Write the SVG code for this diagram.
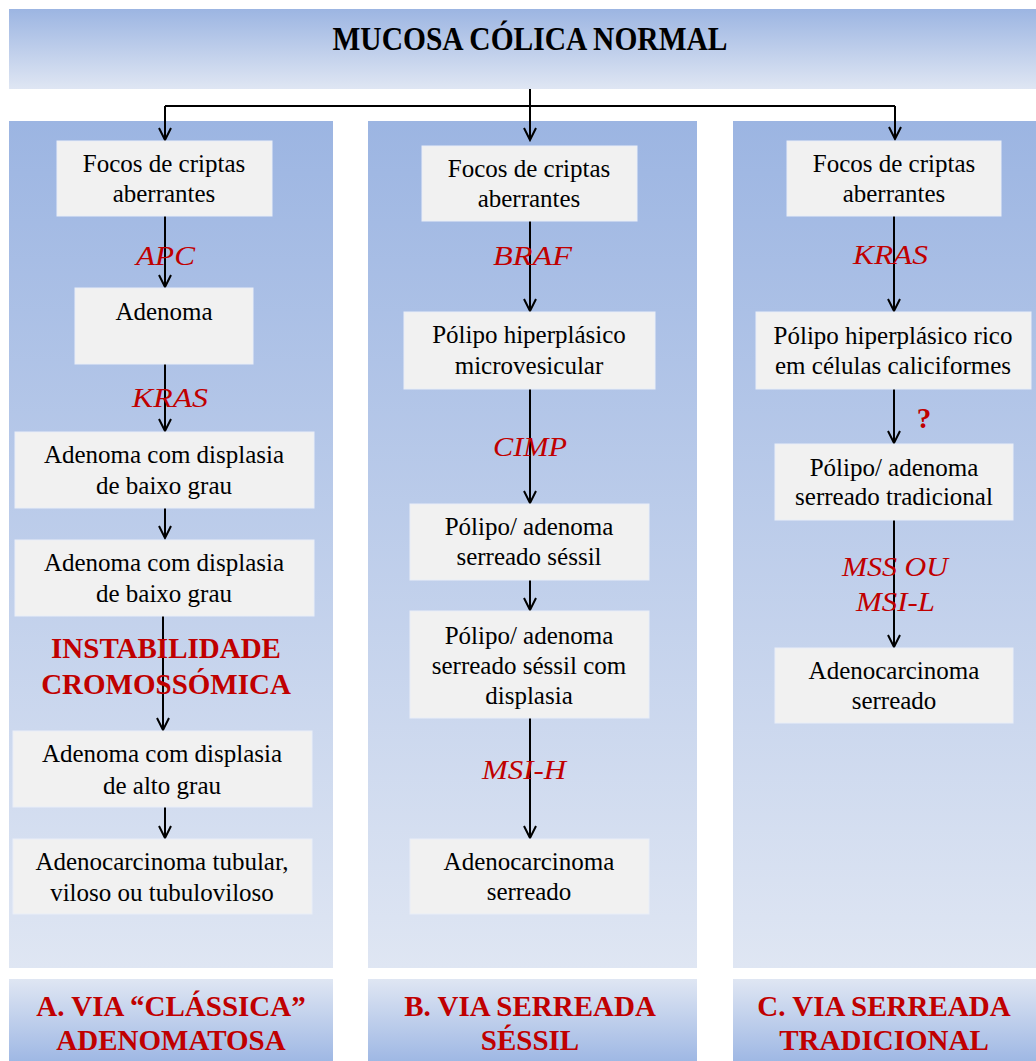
<svg xmlns="http://www.w3.org/2000/svg" width="1036" height="1061" viewBox="0 0 1036 1061" font-family="Liberation Serif, Times New Roman, serif">
<defs>
<linearGradient id="gDown" x1="0" y1="0" x2="0" y2="1">
<stop offset="0" stop-color="#9cb5e2"/>
<stop offset="1" stop-color="#dfe6f3"/>
</linearGradient>
<linearGradient id="gUp" x1="0" y1="0" x2="0" y2="1">
<stop offset="0" stop-color="#dfe6f3"/>
<stop offset="1" stop-color="#9fb8e4"/>
</linearGradient>
<marker id="arr" viewBox="-14 -8 16 16" refX="0" refY="0" markerWidth="16" markerHeight="16" markerUnits="userSpaceOnUse" orient="auto">
<path d="M-12,-6 L0,0 L-12,6" fill="none" stroke="#000" stroke-width="2"/>
</marker>
<style>
.col{fill:url(#gDown);}
.lab{fill:url(#gUp);}
.node rect{fill:#f1f1f1;stroke:#e9eef7;stroke-width:1;}
text{text-anchor:middle;}
.t{font-size:25px;fill:#000;}
.g{font-size:28px;font-style:italic;fill:#c00000;}
.b{font-size:29px;font-weight:bold;fill:#c00000;}
.h{font-size:33px;font-weight:bold;fill:#000;}
.c{fill:none;stroke:#000;stroke-width:2;}
.a{fill:none;stroke:#000;stroke-width:2;marker-end:url(#arr);}
</style>
</defs>
<rect width="1036" height="1061" fill="#fff"/>

<g id="header">
<rect x="9" y="9" width="1027" height="80" class="col"/>
<text class="h" x="530" y="50" textLength="395" lengthAdjust="spacingAndGlyphs">MUCOSA CÓLICA NORMAL</text>
</g>

<g id="columns">
<rect x="9" y="121" width="324" height="847" class="col"/>
<rect x="368" y="121" width="329" height="847" class="col"/>
<rect x="733" y="121" width="303" height="847" class="col"/>
</g>

<g id="label-A">
<rect x="9" y="979" width="324" height="82" class="lab"/>
<text class="b" x="171" y="1016">A. VIA “CLÁSSICA”</text>
<text class="b" x="171" y="1050">ADENOMATOSA</text>
</g>
<g id="label-B">
<rect x="368" y="979" width="329" height="82" class="lab"/>
<text class="b" x="530" y="1016">B. VIA SERREADA</text>
<text class="b" x="530" y="1050">SÉSSIL</text>
</g>
<g id="label-C">
<rect x="733" y="979" width="303" height="82" class="lab"/>
<text class="b" x="884" y="1016">C. VIA SERREADA</text>
<text class="b" x="884" y="1050">TRADICIONAL</text>
</g>

<g id="connectors">
<path class="c" d="M530,89 V106 M165,106 H895"/>
<path class="a" d="M530,89 V140"/>
<path class="a" d="M165,106 V140"/>
<path class="a" d="M895,106 V139"/>
<path class="a" d="M165,216 V287"/>
<path class="a" d="M165,364 V431"/>
<path class="a" d="M165,508 V538"/>
<path class="a" d="M163,616 V730"/>
<path class="a" d="M165,807 V838"/>
<path class="a" d="M530,221 V311"/>
<path class="a" d="M530,389 V503"/>
<path class="a" d="M530,580 V610"/>
<path class="a" d="M530,718 V838"/>
<path class="a" d="M894,216 V311"/>
<path class="a" d="M894,389 V443"/>
<path class="a" d="M894,520 V647"/>
</g>

<g id="gene-labels">
<text class="g" x="165.5" y="265" textLength="59" lengthAdjust="spacingAndGlyphs">APC</text>
<text class="g" x="170" y="407" textLength="76" lengthAdjust="spacingAndGlyphs">KRAS</text>
<text class="b" x="166" y="658">INSTABILIDADE</text>
<text class="b" x="166" y="694">CROMOSSÓMICA</text>
<text class="g" x="532.5" y="265" textLength="79" lengthAdjust="spacingAndGlyphs">BRAF</text>
<text class="g" x="530" y="456" textLength="74" lengthAdjust="spacingAndGlyphs">CIMP</text>
<text class="g" x="524" y="779" textLength="84" lengthAdjust="spacingAndGlyphs">MSI-H</text>
<text class="g" x="890.5" y="264" textLength="75" lengthAdjust="spacingAndGlyphs">KRAS</text>
<text class="b" x="924" y="428" font-size="24">?</text>
<text class="g" x="895" y="576" textLength="106" lengthAdjust="spacingAndGlyphs">MSS OU</text>
<text class="g" x="895.5" y="611" textLength="79" lengthAdjust="spacingAndGlyphs">MSI-L</text>
</g>

<g id="nA1" class="node"><rect x="57" y="141" width="215" height="75"/>
<text class="t" x="164" y="172">Focos de criptas</text><text class="t" x="164" y="202">aberrantes</text></g>
<g id="nA2" class="node"><rect x="75" y="288" width="178" height="76"/>
<text class="t" x="164" y="320">Adenoma</text></g>
<g id="nA3" class="node"><rect x="15" y="432" width="299" height="76"/>
<text class="t" x="164" y="463">Adenoma com displasia</text><text class="t" x="164" y="494">de baixo grau</text></g>
<g id="nA4" class="node"><rect x="15" y="540" width="299" height="76"/>
<text class="t" x="164" y="571">Adenoma com displasia</text><text class="t" x="164" y="602">de baixo grau</text></g>
<g id="nA5" class="node"><rect x="13" y="731" width="299" height="76"/>
<text class="t" x="162" y="762">Adenoma com displasia</text><text class="t" x="162" y="794">de alto grau</text></g>
<g id="nA6" class="node"><rect x="13" y="839" width="299" height="75"/>
<text class="t" x="162" y="870">Adenocarcinoma tubular,</text><text class="t" x="162" y="901">viloso ou tubuloviloso</text></g>

<g id="nB1" class="node"><rect x="422" y="146" width="215" height="75"/>
<text class="t" x="529" y="177">Focos de criptas</text><text class="t" x="529" y="207">aberrantes</text></g>
<g id="nB2" class="node"><rect x="404" y="312" width="251" height="77"/>
<text class="t" x="529" y="343">Pólipo hiperplásico</text><text class="t" x="529" y="374">microvesicular</text></g>
<g id="nB3" class="node"><rect x="410" y="504" width="239" height="76"/>
<text class="t" x="529" y="535">Pólipo/ adenoma</text><text class="t" x="529" y="565">serreado séssil</text></g>
<g id="nB4" class="node"><rect x="410" y="611" width="239" height="107"/>
<text class="t" x="529" y="644">Pólipo/ adenoma</text><text class="t" x="529" y="674">serreado séssil com</text><text class="t" x="529" y="704">displasia</text></g>
<g id="nB5" class="node"><rect x="410" y="839" width="239" height="75"/>
<text class="t" x="529" y="870">Adenocarcinoma</text><text class="t" x="529" y="900">serreado</text></g>

<g id="nC1" class="node"><rect x="787" y="141" width="214" height="75"/>
<text class="t" x="894" y="172">Focos de criptas</text><text class="t" x="894" y="202">aberrantes</text></g>
<g id="nC2" class="node"><rect x="756" y="312" width="275" height="77"/>
<text class="t" x="893" y="344">Pólipo hiperplásico rico</text><text class="t" x="893" y="374">em células caliciformes</text></g>
<g id="nC3" class="node"><rect x="775" y="444" width="238" height="76"/>
<text class="t" x="894" y="476">Pólipo/ adenoma</text><text class="t" x="894" y="505">serreado tradicional</text></g>
<g id="nC4" class="node"><rect x="775" y="648" width="238" height="75"/>
<text class="t" x="894" y="679">Adenocarcinoma</text><text class="t" x="894" y="709">serreado</text></g>
</svg>
